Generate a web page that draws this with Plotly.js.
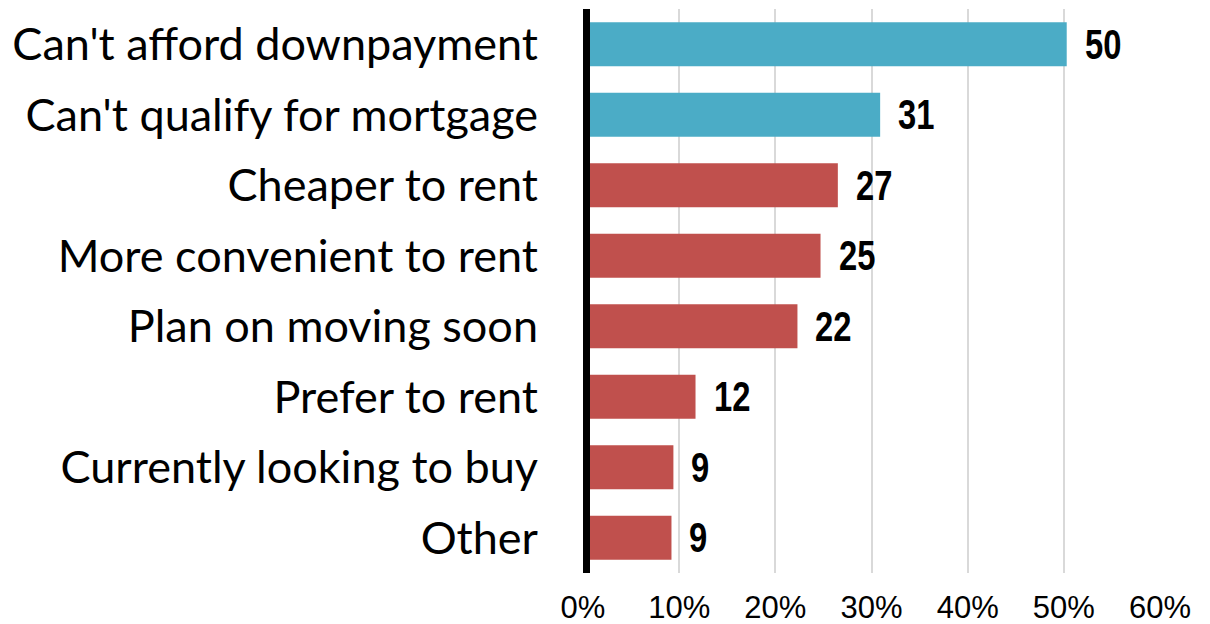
<!DOCTYPE html>
<html>
<head>
<meta charset="utf-8">
<script src="https://cdn.plot.ly/plotly-3.0.1.min.js"></script>
<style>html,body{margin:0;padding:0;background:#fff;}#chart{width:1210px;height:624px;}</style>
</head>
<body>
<div id="chart"></div>
<script>
var categories = ["Can't afford downpayment", "Can't qualify for mortgage", "Cheaper to rent", "More convenient to rent", "Plan on moving soon", "Prefer to rent", "Currently looking to buy", "Other"];
var values = [50.3, 30.9, 26.5, 24.7, 22.3, 11.7, 9.4, 9.2];
var valueLabels = ["50", "31", "27", "25", "22", "12", "9", "9"];
var barColors = ["#4BACC6", "#4BACC6", "#C0504D", "#C0504D", "#C0504D", "#C0504D", "#C0504D", "#C0504D"];
var tickVals = [0, 10, 20, 30, 40, 50, 60];
var tickText = ["0%", "10%", "20%", "30%", "40%", "50%", "60%"];

var trace = {
  type: 'bar',
  orientation: 'h',
  x: values,
  y: categories,
  marker: {color: barColors},
  hoverinfo: 'none'
};

var annotations = values.map(function (v, i) {
  return {
    x: v, y: categories[i], xref: 'x', yref: 'y',
    text: valueLabels[i], showarrow: false,
    xanchor: 'left', yanchor: 'middle', xshift: 16,
    font: {family: "'Liberation Sans', Arial, sans-serif", size: 42, color: '#000', weight: 'bold'}
  };
});

var layout = {
  width: 1210, height: 624,
  margin: {l: 583, r: 50, t: 9, b: 51},
  paper_bgcolor: '#fff', plot_bgcolor: '#fff',
  bargap: 0.376,
  showlegend: false,
  xaxis: {
    range: [0, 60], tickvals: tickVals, ticktext: tickText,
    showgrid: true, gridcolor: '#D9D9D9', gridwidth: 2,
    zeroline: false, showline: false, ticks: '',
    ticklabelstandoff: 13,
    tickfont: {family: "'Liberation Sans', Arial, sans-serif", size: 31, color: '#000'},
    fixedrange: true
  },
  yaxis: {
    type: 'category', autorange: false, range: [7.5, -0.5],
    showgrid: false, zeroline: false, showline: false, ticks: '',
    ticklabelstandoff: 44,
    tickfont: {family: "Lato, 'Open Sans', sans-serif", size: 45, color: '#000'},
    fixedrange: true
  },
  shapes: [{
    type: 'line', xref: 'x', yref: 'paper', x0: 0, x1: 0, y0: 0, y1: 1,
    line: {color: '#000', width: 14}, layer: 'above'
  }],
  annotations: annotations
};

function condenseLabels() {
  var texts = document.querySelectorAll('#chart .annotation-text');
  texts.forEach(function (t) {
    t.removeAttribute('transform');
    var b = t.getBBox();
    var x0 = b.x;
    t.setAttribute('transform', 'translate(' + x0 + ',0) scale(0.78,1) translate(' + (-x0) + ',0)');
  });
}

Plotly.newPlot('chart', [trace], layout, {displayModeBar: false, staticPlot: true}).then(condenseLabels);
</script>
</body>
</html>
